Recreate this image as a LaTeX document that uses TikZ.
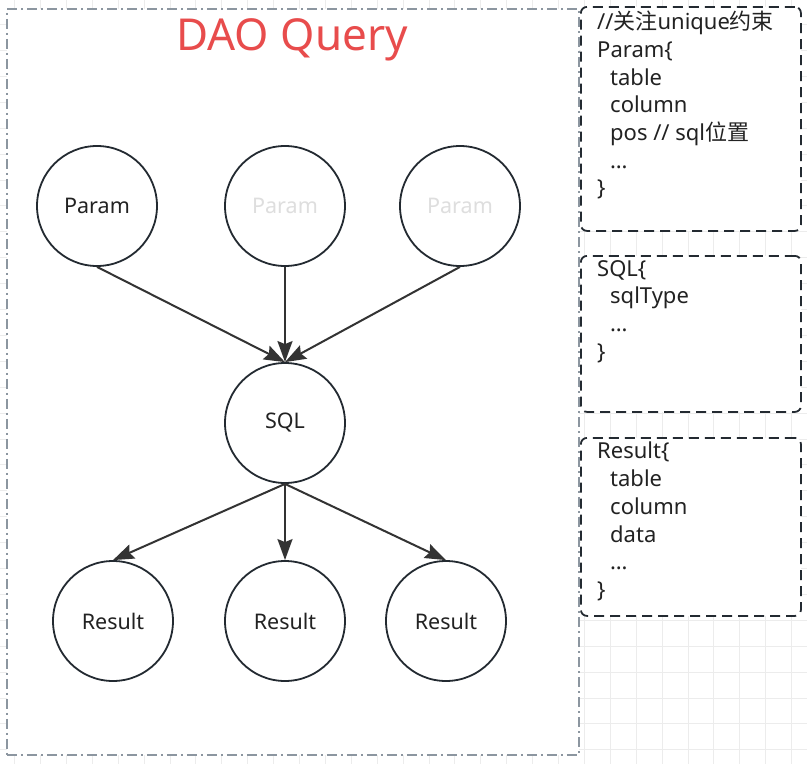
\documentclass[tikz,border=0pt]{standalone}
\usepackage{fontspec}
\setmainfont{Noto Sans}
\newfontfamily\cjk{Noto Sans CJK SC}
\usetikzlibrary{arrows.meta}

\definecolor{linedark}{RGB}{35,42,49}
\definecolor{arrowdark}{RGB}{51,51,51}
\definecolor{framegray}{RGB}{140,150,160}
\definecolor{titlered}{RGB}{232,76,76}
\definecolor{fadedtext}{RGB}{222,222,222}
\definecolor{gridgray}{RGB}{236,236,236}
\definecolor{bodytext}{RGB}{34,34,34}

\begin{document}
\begin{tikzpicture}[x=1pt,y=-1pt,>={Stealth[length=21pt,width=15pt,inset=3pt]}]

\tikzset{%
every circ/.style={
circle,
draw=linedark,
line width=1.8pt,
fill=white,
minimum size=120pt,
inner sep=0pt,
text=bodytext,
font=\fontsize{21.5}{24}\selectfont
},
circ faded/.style={
text=fadedtext
},
frame box/.style={
draw=framegray,
line width=1.8pt,
dash pattern=on 10pt off 4pt on 2pt off 4pt,
fill=white,
anchor=north west,
inner sep=0pt
},
note box/.style={
draw=linedark,
line width=1.8pt,
dash pattern=on 10pt off 6pt,
rounded corners=6pt,
fill=white,
anchor=north west,
minimum width=220pt,
inner sep=0pt
},
note text/.style={
anchor=north west,
align=left,
inner sep=0pt,
text=bodytext,
font=\fontsize{22}{27.7}\selectfont
},
link/.style={
->,
draw=arrowdark,
line width=2pt
},
}

\useasboundingbox (0,0) rectangle (807,764);

% Background grid
\foreach \g in {0,...,31}
\draw [gridgray, line width=1pt] (14.6+\g*25.9,0) -- (14.6+\g*25.9,764);
\foreach \g in {0,...,29}
\draw [gridgray, line width=1pt] (0,24.6+\g*25.9) -- (807,24.6+\g*25.9);

% Outer frame and title
\node [frame box, minimum width=572pt, minimum height=746pt] (frame) at (6,8) {};
\node [anchor=base, text=titlered, font=\fontsize{44}{50}\selectfont] (title) at (292,50) {DAO Query};

% Param circles
\foreach \x/\s [count=\i] in {97/1,285/faded,460/faded}
\node [every circ, circ \s/.try] (param-\i) at (\x,206) {Param};

% SQL circle
\node [every circ] (sql) at (285,423) {SQL};

% Result circles
\foreach \x [count=\i] in {113,285,446}
\node [every circ] (result-\i) at (\x,621) {Result};

% Arrows into and out of SQL
\foreach \i in {1,2,3}
\draw [link] (param-\i.south) -- (sql.north);
\foreach \i in {1,2,3}
\draw [link] (sql.south) -- (result-\i.north);

% Notes on the right
\node [note box, minimum height=224pt] (note-param) at (580,6) {};
\node [note box, minimum height=156pt] (note-sql) at (580,255) {};
\node [note box, minimum height=178pt] (note-result) at (580,437) {};

\node [note text] (text-param) at ([xshift=17pt,yshift=-5pt]note-param.north west)
{//{\cjk 关注}unique{\cjk 约束}\\
Param\{\\
\hspace*{13pt}table\\
\hspace*{13pt}column\\
\hspace*{13pt}pos // sql{\cjk 位置}\\
\hspace*{13pt}…\\
\}};
\node [note text] (text-sql) at ([xshift=17pt,yshift=-5pt]note-sql.north west)
{SQL\{\\
\hspace*{13pt}sqlType\\
\hspace*{13pt}…\\
\}};
\node [note text] (text-result) at ([xshift=17pt,yshift=-5pt]note-result.north west)
{Result\{\\
\hspace*{13pt}table\\
\hspace*{13pt}column\\
\hspace*{13pt}data\\
\hspace*{13pt}…\\
\}};

\end{tikzpicture}
\end{document}
